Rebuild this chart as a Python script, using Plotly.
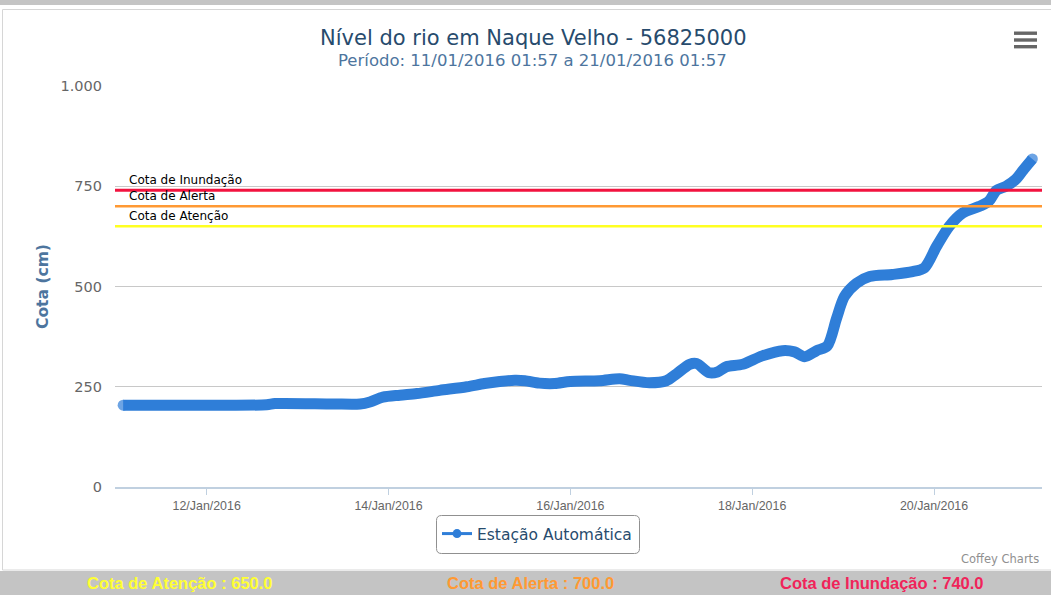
import plotly.graph_objects as go

# ---------------- data ----------------
times = ["2016-01-11 01:57", "2016-01-11 19:30", "2016-01-12 15:50", "2016-01-12 18:00",
         "2016-01-13 09:20", "2016-01-13 16:30", "2016-01-13 19:05", "2016-01-13 22:30",
         "2016-01-14 03:00", "2016-01-14 07:30", "2016-01-14 13:30", "2016-01-14 20:40",
         "2016-01-15 01:20", "2016-01-15 05:20", "2016-01-15 09:20", "2016-01-15 12:00",
         "2016-01-15 15:50", "2016-01-15 19:50", "2016-01-16 00:00", "2016-01-16 07:40",
         "2016-01-16 13:00", "2016-01-16 15:40", "2016-01-16 20:50", "2016-01-17 01:20",
         "2016-01-17 04:00", "2016-01-17 07:30", "2016-01-17 09:20", "2016-01-17 12:40",
         "2016-01-17 14:50", "2016-01-17 17:10", "2016-01-17 21:30", "2016-01-18 02:40",
         "2016-01-18 08:00", "2016-01-18 11:10", "2016-01-18 13:50", "2016-01-18 17:00",
         "2016-01-18 19:50", "2016-01-18 22:15", "2016-01-19 00:20", "2016-01-19 03:30",
         "2016-01-19 07:00", "2016-01-19 13:00", "2016-01-19 18:20", "2016-01-19 21:30",
         "2016-01-20 00:40", "2016-01-20 04:00", "2016-01-20 07:30", "2016-01-20 12:00",
         "2016-01-20 14:30", "2016-01-20 16:30", "2016-01-20 19:00", "2016-01-20 21:40",
         "2016-01-20 23:30", "2016-01-21 01:57"]
cota = [204, 204, 205, 208,
        207, 207, 212, 224,
        229, 233, 241, 250,
        258, 263, 266, 265,
        259, 258, 263, 265,
        270, 266, 260, 265,
        282, 306, 308, 285,
        287, 300, 306, 327,
        340, 337, 325, 340,
        352, 420, 475, 508,
        525, 530, 537, 547,
        600, 650, 683, 700,
        713, 740, 750, 768,
        790, 818]

series_name = "Estação Automática"
title_text = "Nível do rio em Naque Velho - 56825000"
subtitle_text = "Período: 11/01/2016 01:57 a 21/01/2016 01:57"

limit_names = ["Cota de Inundação", "Cota de Alerta", "Cota de Atenção"]
limit_values = [740.0, 700.0, 650.0]
limit_colors = ["#f2133f", "#ff9933", "#ffff22"]
limit_widths = [3, 2.5, 2.5]
footer_colors = ["#ffff33", "#ff9933", "#f0245a"]

y_ticks = [0, 250, 500, 750, 1000]

# ---------------- geometry helpers (pixels -> paper) ----------------
W, H = 1051, 595
L, R, T, B = 115, 9, 86, 108
PW, PH = W - L - R, H - T - B


def px(x):
    return (x - L) / PW


def py(y):
    return (H - B - y) / PH


line_color = "#2f7ed8"

fig = go.Figure()

marker_sizes = [11] + [0] * (len(cota) - 2) + [11]
fig.add_trace(go.Scatter(
    x=times, y=cota, mode="lines+markers", name=series_name,
    line=dict(color=line_color, width=11, shape="spline", smoothing=0.8),
    marker=dict(size=marker_sizes, color=line_color, line=dict(width=0)),
    showlegend=False, hoverinfo="x+y"))

# legend-only trace (line + marker symbol)
fig.add_trace(go.Scatter(
    x=[None], y=[None], mode="lines+markers", name=series_name,
    line=dict(color=line_color, width=3),
    marker=dict(size=9, color=line_color), showlegend=True))

shapes = []
annotations = []

# plot lines
for name, v, c, w in zip(limit_names, limit_values, limit_colors, limit_widths):
    shapes.append(dict(type="line", xref="paper", yref="y", x0=0, x1=1, y0=v, y1=v,
                       line=dict(color=c, width=w), layer="above"))
    annotations.append(dict(text=name, xref="paper", yref="y", x=px(127), y=v,
                            xanchor="left", yanchor="bottom", yshift=1, showarrow=False,
                            font=dict(family="DejaVu Sans", size=12, color="#000000")))

# outer container border
shapes.append(dict(type="rect", xref="paper", yref="paper", x0=px(2.5), x1=px(1060),
                   y0=py(570), y1=py(9.5), line=dict(color="#d6d6d6", width=1), layer="below"))
# top and bottom grey bars
shapes.append(dict(type="rect", xref="paper", yref="paper", x0=px(-5), x1=px(1060),
                   y0=py(5), y1=py(-5), fillcolor="#c4c4c4", line=dict(width=0), layer="below"))
shapes.append(dict(type="rect", xref="paper", yref="paper", x0=px(-5), x1=px(1060),
                   y0=py(600), y1=py(571), fillcolor="#c4c4c4", line=dict(width=0), layer="below"))
# legend rounded box
x0, x1, y0, y1, r = px(436.5), px(639.5), py(553.5), py(515.5), 5
rx, ry = r / PW, r / PH
path = (f"M {x0+rx},{y1} L {x1-rx},{y1} Q {x1},{y1} {x1},{y1-ry} "
        f"L {x1},{y0+ry} Q {x1},{y0} {x1-rx},{y0} L {x0+rx},{y0} "
        f"Q {x0},{y0} {x0},{y0+ry} L {x0},{y1-ry} Q {x0},{y1} {x0+rx},{y1} Z")
shapes.append(dict(type="path", xref="paper", yref="paper", path=path,
                   line=dict(color="#909090", width=1), fillcolor="rgba(0,0,0,0)"))
# hamburger menu icon
for yt in (31.5, 38.3, 45.0):
    shapes.append(dict(type="rect", xref="paper", yref="paper", x0=px(1014), x1=px(1037),
                       y0=py(yt + 3.4), y1=py(yt), fillcolor="#666666", line=dict(width=0)))

# title & subtitle
annotations.append(dict(text=title_text, xref="paper", yref="paper", x=px(533), y=py(38),
                        xanchor="center", yanchor="middle", showarrow=False,
                        font=dict(family="DejaVu Sans", size=21, color="#274b6d")))
annotations.append(dict(text=subtitle_text, xref="paper", yref="paper", x=px(532), y=py(60),
                        xanchor="center", yanchor="middle", showarrow=False,
                        font=dict(family="DejaVu Sans", size=16.5, color="#4d759e")))
# credit
annotations.append(dict(text="Coffey Charts", xref="paper", yref="paper", x=px(1041), y=py(559),
                        xanchor="right", yanchor="middle", showarrow=False,
                        font=dict(family="DejaVu Sans", size=11.5, color="#909090")))
# footer texts
footer_x = [180, 530, 882]
for name, v, c, fx in zip(reversed(limit_names), reversed(limit_values), footer_colors, footer_x):
    annotations.append(dict(text=f"<b>{name} : {v:.1f}</b>", xref="paper", yref="paper",
                            x=px(fx), y=py(583), xanchor="center", yanchor="middle",
                            showarrow=False,
                            font=dict(family="Liberation Sans", size=16.5, color=c)))

fig.update_layout(
    width=W, height=H,
    margin=dict(l=L, r=R, t=T, b=B, autoexpand=False),
    paper_bgcolor="white", plot_bgcolor="white",
    separators=",.",
    shapes=shapes, annotations=annotations,
    showlegend=True,
    legend=dict(x=px(537), y=py(534), xanchor="center", yanchor="middle",
                orientation="h", bgcolor="rgba(0,0,0,0)", borderwidth=0,
                font=dict(family="DejaVu Sans", size=15.5, color="#274b6d")),
    xaxis=dict(type="date", range=["2016-01-10 23:48", "2016-01-21 04:30"],
               tick0="2016-01-12", dtick=2 * 86400000, tickformat="%d/%b/%Y",
               ticks="outside", ticklen=6, tickcolor="#C0D0E0", tickwidth=1,
               showline=True, linecolor="#C0D0E0", linewidth=1.5,
               showgrid=False, zeroline=False,
               tickfont=dict(family="Liberation Sans", size=12.4, color="#666666")),
    yaxis=dict(range=[0, 1000], tickvals=y_ticks, tickformat=",d",
               showgrid=True, gridcolor="#C8C8C8", gridwidth=1, zeroline=False,
               showline=False, ticks="", ticklabelstandoff=12,
               tickfont=dict(family="DejaVu Sans", size=14.5, color="#666666"),
               title=dict(text="<b>Cota (cm)</b>", standoff=8,
                          font=dict(family="DejaVu Sans", size=15.5, color="#4d759e"))),
)

fig.write_html("out.html", config={"displayModeBar": False},
               post_script="document.body.style.margin='0';document.body.style.padding='0';")
